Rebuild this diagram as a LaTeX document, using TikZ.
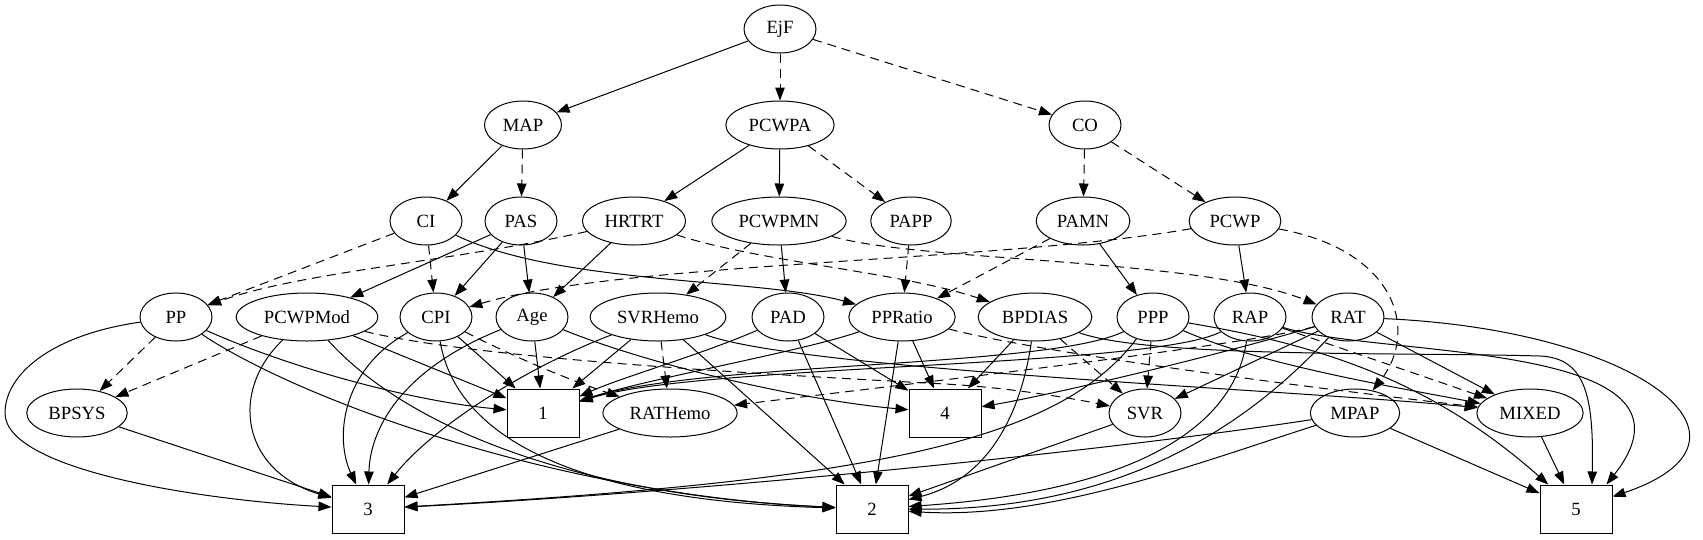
\documentclass[tikz,border=0pt]{standalone}
\usepackage{fontspec}
\setmainfont{Liberation Serif}
\usetikzlibrary{shapes.geometric,arrows.meta}
\newcommand\gvfont{\fontsize{18.67}{22}\selectfont}
\tikzset{
  ell/.style={draw, ellipse, line width=1pt, inner xsep=7pt, inner ysep=0pt,
              minimum width=72pt, minimum height=48pt, font=\gvfont},
  boxn/.style={draw, rectangle, line width=1pt, inner sep=0pt,
               minimum width=72pt, minimum height=48pt, font=\gvfont},
  sol/.style={line width=1pt, -{Triangle[length=13pt,width=9.5pt]}},
  dsh/.style={sol, dash pattern=on 9pt off 6pt},
}
\begin{document}
\begin{tikzpicture}[x=1pt,y=-1pt]
\useasboundingbox (0,0) rectangle (1703,539);
% row 0
\node[ell] (EjF) at (780,29) {EjF};
% row 1
\node[ell] (MAP) at (523,125) {MAP};
\node[ell] (PCWPA) at (780,125) {PCWPA};
\node[ell] (CO) at (1085,125) {CO};
% row 2
\node[ell] (CI) at (426,221) {CI};
\node[ell] (PAS) at (521,221) {PAS};
\node[ell] (HRTRT) at (634,221) {HRTRT};
\node[ell] (PCWPMN) at (779,221) {PCWPMN};
\node[ell] (PAPP) at (911,221) {PAPP};
\node[ell] (PAMN) at (1083,221) {PAMN};
\node[ell] (PCWP) at (1235,221) {PCWP};
% row 3
\node[ell] (PP) at (176,317) {PP};
\node[ell] (PCWPMod) at (307,317) {PCWPMod};
\node[ell] (CPI) at (436,317) {CPI};
\node[ell] (Age) at (532,317) {Age};
\node[ell] (SVRHemo) at (658,317) {SVRHemo};
\node[ell] (PAD) at (788,317) {PAD};
\node[ell] (PPRatio) at (902,317) {PPRatio};
\node[ell] (BPDIAS) at (1035,317) {BPDIAS};
\node[ell] (PPP) at (1153,317) {PPP};
\node[ell] (RAP) at (1250,317) {RAP};
\node[ell] (RAT) at (1348,317) {RAT};
% row 4
\node[ell] (BPSYS) at (77,413) {BPSYS};
\node[boxn] (b1) at (543,413) {1};
\node[ell] (RATHemo) at (670,413) {RATHemo};
\node[boxn] (b4) at (945,413) {4};
\node[ell] (SVR) at (1145,413) {SVR};
\node[ell] (MPAP) at (1355,413) {MPAP};
\node[ell] (MIXED) at (1530,413) {MIXED};
% row 5
\node[boxn] (b3) at (368,509) {3};
\node[boxn] (b2) at (872,509) {2};
\node[boxn] (b5) at (1576,509) {5};

% row 0 -> 1
\draw[sol] (EjF) -- (MAP);
\draw[dsh] (EjF) -- (PCWPA);
\draw[dsh] (EjF) -- (CO);
% row 1 -> 2
\draw[sol] (MAP) -- (CI);
\draw[dsh] (MAP) -- (PAS);
\draw[sol] (PCWPA) -- (HRTRT);
\draw[sol] (PCWPA) -- (PCWPMN);
\draw[dsh] (PCWPA) -- (PAPP);
\draw[dsh] (CO) -- (PAMN);
\draw[dsh] (CO) -- (PCWP);
% row 2 -> 3
\draw[dsh] (CI) -- (PP);
\draw[dsh] (CI) -- (CPI);
\draw[sol] (CI) .. controls (560,285) and (760,278) .. (PPRatio);
\draw[sol] (PAS) -- (PCWPMod);
\draw[sol] (PAS) -- (CPI);
\draw[sol] (PAS) -- (Age);
\draw[sol] (HRTRT) -- (Age);
\draw[dsh] (HRTRT) .. controls (450,262) and (300,272) .. (PP);
\draw[dsh] (HRTRT) .. controls (760,262) and (900,272) .. (BPDIAS);
\draw[dsh] (PCWPMN) -- (SVRHemo);
\draw[sol] (PCWPMN) -- (PAD);
\draw[dsh] (PCWPMN) .. controls (920,262) and (1200,258) .. (RAT);
\draw[dsh] (PAPP) -- (PPRatio);
\draw[dsh] (PAMN) -- (PPRatio);
\draw[sol] (PAMN) -- (PPP);
\draw[sol] (PCWP) -- (RAP);
\draw[dsh] (PCWP) .. controls (1000,262) and (620,262) .. (CPI);
\draw[dsh] (PCWP) .. controls (1395,250) and (1420,330) .. (MPAP);
% PP
\draw[dsh] (PP) -- (BPSYS);
\draw[sol] (PP) .. controls (300,372) and (420,402) .. (b1);
\draw[sol] (PP) .. controls (50,335) and (5,375) .. (5,413) .. controls (5,470) and (200,500) .. (b3);
\draw[sol] (PP) .. controls (300,400) and (560,495) .. (b2);
% PCWPMod
\draw[dsh] (PCWPMod) -- (BPSYS);
\draw[sol] (PCWPMod) .. controls (230,390) and (240,470) .. (b3);
\draw[sol] (PCWPMod) .. controls (400,420) and (560,495) .. (b2);
\draw[sol] (PCWPMod) -- (b1);
\draw[dsh] (PCWPMod) .. controls (480,360) and (800,376) .. (945,384) .. controls (1000,387) and (1060,396) .. (SVR);
% CPI
\draw[dsh] (CPI) .. controls (520,360) and (575,382) .. (RATHemo);
\draw[sol] (CPI) -- (b1);
\draw[sol] (CPI) .. controls (340,370) and (335,440) .. (b3);
\draw[sol] (CPI) .. controls (455,430) and (560,500) .. (b2);
% Age
\draw[sol] (Age) -- (b1);
\draw[sol] (Age) .. controls (400,370) and (370,430) .. (b3);
\draw[sol] (Age) .. controls (650,365) and (800,400) .. (b4);
% SVRHemo
\draw[sol] (SVRHemo) -- (b1);
\draw[sol] (SVRHemo) .. controls (520,370) and (430,430) .. (b3);
\draw[dsh] (SVRHemo) -- (RATHemo);
\draw[sol] (SVRHemo) -- (b2);
\draw[sol] (SVRHemo) .. controls (800,370) and (1300,390) .. (MIXED);
% PAD
\draw[sol] (PAD) .. controls (700,355) and (620,378) .. (b1);
\draw[sol] (PAD) -- (b4);
\draw[sol] (PAD) -- (b2);
% PPRatio
\draw[sol] (PPRatio) .. controls (800,352) and (650,378) .. (b1);
\draw[sol] (PPRatio) -- (b4);
\draw[sol] (PPRatio) -- (b2);
\draw[dsh] (PPRatio) .. controls (1050,355) and (1330,390) .. (MIXED);
% BPDIAS
\draw[sol] (BPDIAS) -- (b4);
\draw[sol] (BPDIAS) .. controls (1020,420) and (985,480) .. (b2);
\draw[dsh] (BPDIAS) -- (SVR);
\draw[sol] (BPDIAS) .. controls (1150,358) and (1400,352) .. (1540,356) .. controls (1585,358) and (1594,395) .. ([xshift=16pt]b5.north);
% PPP
\draw[sol] (PPP) .. controls (1050,368) and (700,362) .. (b1);
\draw[sol] (PPP) .. controls (1060,440) and (880,480) .. (b3);
\draw[dsh] (PPP) -- (SVR);
\draw[sol] (PPP) .. controls (1260,365) and (1400,388) .. (MIXED);
\draw[sol] (PPP) .. controls (1320,345) and (1430,380) .. (b5);
% RAP
\draw[sol] (RAP) .. controls (1150,368) and (700,364) .. (b1);
\draw[sol] (RAP) .. controls (1235,420) and (1150,490) .. (b2);
\draw[dsh] (RAP) -- (MIXED);
\draw[sol] (RAP) .. controls (1380,358) and (1720,340) .. ([xshift=-6pt]b5.north east);
% RAT
\draw[dsh] (RAT) .. controls (1250,345) and (900,385) .. (RATHemo);
\draw[sol] (RAT) .. controls (1200,360) and (1050,395) .. (b4);
\draw[sol] (RAT) -- (SVR);
\draw[sol] (RAT) .. controls (1270,400) and (1150,510) .. (b2);
\draw[sol] (RAT) -- (MIXED);
\draw[sol] (RAT) .. controls (1640,330) and (1780,440) .. (b5);
% row 4 -> 5
\draw[sol] (BPSYS) -- (b3);
\draw[sol] (RATHemo) -- (b3);
\draw[sol] (SVR) -- (b2);
\draw[sol] (MPAP) .. controls (1100,452) and (700,492) .. (b3);
\draw[sol] (MPAP) .. controls (1200,462) and (1050,520) .. (b2);
\draw[sol] (MPAP) -- (b5);
\draw[sol] (MIXED) -- (b5);
\end{tikzpicture}
\end{document}
